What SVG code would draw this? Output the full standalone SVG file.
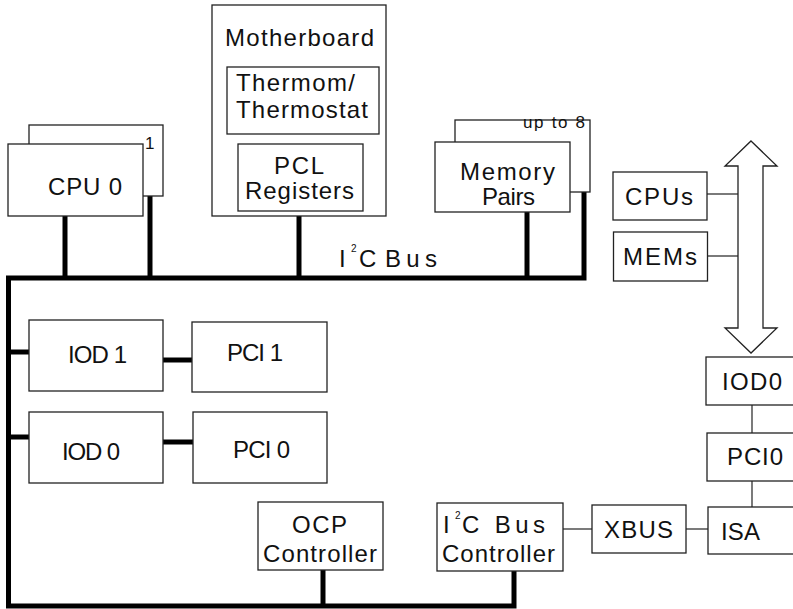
<svg xmlns="http://www.w3.org/2000/svg" width="793" height="609" viewBox="0 0 793 609">
<style>
.box{fill:#fff;stroke:#222;stroke-width:1.3}
.t{font-family:"Liberation Sans",Arial,sans-serif;fill:#111;font-size:24px}
.s{font-size:17px}
.thick{fill:none;stroke:#000;stroke-width:5}
.thin{fill:none;stroke:#222;stroke-width:1.2}
</style>
<rect width="793" height="609" fill="#fff"/>
<g id="connectors">
<polyline class="thick" points="584,192 584,278 8.5,278 8.5,606 514,606 514,571"/>
<line class="thick" x1="65" y1="216" x2="65" y2="278"/>
<line class="thick" x1="150" y1="196" x2="150" y2="278"/>
<line class="thick" x1="299" y1="216" x2="299" y2="278"/>
<line class="thick" x1="527" y1="212" x2="527" y2="278"/>
<line class="thick" x1="8.5" y1="352" x2="29" y2="352"/>
<line class="thick" x1="8.5" y1="437" x2="29" y2="437"/>
<line class="thick" x1="163" y1="360" x2="192" y2="360"/>
<line class="thick" x1="163" y1="442" x2="193" y2="442"/>
<line class="thick" x1="323" y1="570" x2="323" y2="606"/>
<line class="thin" x1="707" y1="194" x2="738" y2="194"/>
<line class="thin" x1="707" y1="256" x2="738" y2="256"/>
<line class="thin" x1="752" y1="405" x2="752" y2="433"/>
<line class="thin" x1="752" y1="481" x2="752" y2="507"/>
<line class="thin" x1="686" y1="529" x2="708" y2="529"/>
<line class="thin" x1="563" y1="529" x2="592" y2="529"/>
<polygon class="box" stroke-width="1.2" points="751,141 777,166 763,166 763,328 777,328 751,353 725,328 738,328 738,166 725,166"/>
<text class="t" x="339" y="267" font-size="22"><tspan x="339">I</tspan><tspan x="351" y="252" font-size="10">2</tspan><tspan x="359" y="267">C</tspan><tspan x="385" y="267" textLength="52" lengthAdjust="spacing">Bus</tspan></text>
</g>
<g id="cpu1">
<rect class="box" x="29" y="125" width="134" height="71"/>
<text class="t s" x="145" y="149">1</text>
</g>
<g id="cpu0">
<rect class="box" x="8" y="144" width="135" height="72"/>
<text class="t" x="48" y="195" font-size="25" textLength="74" lengthAdjust="spacing">CPU 0</text>
</g>
<g id="motherboard">
<rect class="box" x="212" y="5" width="174" height="211"/>
<text class="t" x="225" y="46" textLength="149" lengthAdjust="spacing">Motherboard</text>
</g>
<g id="thermostat">
<rect class="box" x="227" y="67" width="152" height="67"/>
<text class="t" x="236" y="91" font-size="22" textLength="119" lengthAdjust="spacing">Thermom/</text>
<text class="t" x="236" y="118" font-size="22" textLength="132" lengthAdjust="spacing">Thermostat</text>
</g>
<g id="pcl">
<rect class="box" x="238" y="144" width="125" height="67"/>
<text class="t" x="274" y="174" font-size="22" textLength="50" lengthAdjust="spacing">PCL</text>
<text class="t" x="245" y="199" font-size="22" textLength="109" lengthAdjust="spacing">Registers</text>
</g>
<g id="memory-back">
<rect class="box" x="455" y="120" width="135" height="72"/>
<text class="t s" x="523" y="128" textLength="62" lengthAdjust="spacing">up to 8</text>
</g>
<g id="memory">
<rect class="box" x="435" y="142" width="135" height="70"/>
<text class="t" x="460" y="180" font-size="22" textLength="95" lengthAdjust="spacing">Memory</text>
<text class="t" x="482" y="205" font-size="22" textLength="53" lengthAdjust="spacing">Pairs</text>
</g>
<g id="cpus">
<rect class="box" x="613" y="172" width="94" height="48"/>
<text class="t" x="625" y="205" textLength="68" lengthAdjust="spacing">CPUs</text>
</g>
<g id="mems">
<rect class="box" x="613.5" y="232" width="94" height="49"/>
<text class="t" x="623" y="265" textLength="74" lengthAdjust="spacing">MEMs</text>
</g>
<g id="iod1">
<rect class="box" x="29" y="320" width="134" height="71"/>
<text class="t" x="68" y="363" font-size="22" textLength="59" lengthAdjust="spacing">IOD 1</text>
</g>
<g id="pci1">
<rect class="box" x="192" y="322" width="135" height="70"/>
<text class="t" x="227" y="361" font-size="22" textLength="56" lengthAdjust="spacing">PCI 1</text>
</g>
<g id="iod0">
<rect class="box" x="29" y="412" width="134" height="71"/>
<text class="t" x="62" y="460" font-size="22" textLength="58" lengthAdjust="spacing">IOD 0</text>
</g>
<g id="pci0">
<rect class="box" x="193" y="412" width="134" height="71"/>
<text class="t" x="233" y="458" font-size="22" textLength="57" lengthAdjust="spacing">PCI 0</text>
</g>
<g id="ocp">
<rect class="box" x="258" y="502" width="125" height="68"/>
<text class="t" x="292" y="533" font-size="23" textLength="55" lengthAdjust="spacing">OCP</text>
<text class="t" x="263" y="562" font-size="23" textLength="114" lengthAdjust="spacing">Controller</text>
</g>
<g id="i2c-controller">
<rect class="box" x="437" y="503" width="126" height="68"/>
<text class="t" x="443" y="533" font-size="23"><tspan x="443">I</tspan><tspan x="455" y="519" font-size="10">2</tspan><tspan x="462" y="533" textLength="83" lengthAdjust="spacing">C Bus</tspan></text>
<text class="t" x="442" y="562" font-size="23" textLength="113" lengthAdjust="spacing">Controller</text>
</g>
<g id="iod0-right">
<rect class="box" x="706" y="357" width="100" height="48"/>
<text class="t" x="722" y="390" textLength="60" lengthAdjust="spacing">IOD0</text>
</g>
<g id="pci0-right">
<rect class="box" x="707" y="433" width="100" height="48"/>
<text class="t" x="727" y="465" textLength="56" lengthAdjust="spacing">PCI0</text>
</g>
<g id="isa">
<rect class="box" x="708" y="507" width="100" height="47"/>
<text class="t" x="721" y="540" textLength="39" lengthAdjust="spacing">ISA</text>
</g>
<g id="xbus">
<rect class="box" x="592" y="505" width="94" height="48"/>
<text class="t" x="604" y="538" textLength="69" lengthAdjust="spacing">XBUS</text>
</g>
</svg>
